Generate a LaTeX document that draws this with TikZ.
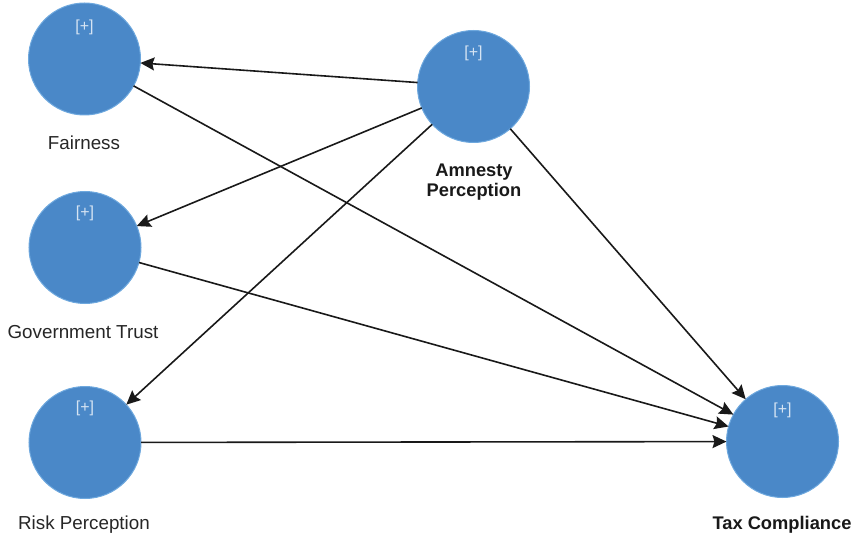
\documentclass[tikz,border=0pt]{standalone}
\usepackage{fontspec}
\setmainfont{Liberation Sans}
\usetikzlibrary{arrows.meta}
\definecolor{circfill}{HTML}{4A88C8}
\definecolor{circedge}{HTML}{6EA8DE}
\definecolor{plustext}{HTML}{D6E4F3}
\tikzset{
  latent/.style={circle, fill=circfill, draw=circedge, line width=1pt, minimum size=112pt, inner sep=0pt, outer sep=0pt},
  plus/.style={text=plustext, font=\fontsize{16}{18}\selectfont, inner sep=0pt},
  lbl/.style={font=\fontsize{18.8}{20}\selectfont, inner sep=0pt, align=center, text=black!85},
  blbl/.style={font=\fontsize{18.3}{20}\selectfont\bfseries, inner sep=0pt, align=center, text=black!90},
  path/.style={draw=black!90, line width=1.6pt, -{Stealth[length=14pt,width=13pt,inset=2pt]}}
}
\begin{document}
\begin{tikzpicture}[x=1pt,y=-1pt]
\useasboundingbox (0,0) rectangle (856,537);
\node[latent] (fair) at (84.5,59) {};
\node[latent] (gov) at (85,247.5) {};
\node[latent] (risk) at (85,442.5) {};
\node[latent] (amn) at (473.5,86.5) {};
\node[latent] (tax) at (782.5,441.5) {};
\node[plus] (pfair) at (84.5,27) {[+]};
\node[plus] (pgov) at (85,213) {[+]};
\node[plus] (prisk) at (85,408) {[+]};
\node[plus] (pamn) at (473.5,53) {[+]};
\node[plus] (ptax) at (782.5,410) {[+]};
\node[lbl] (lfair) at (84,143) {Fairness};
\node[lbl] (lgov) at (83,332) {Government Trust};
\node[lbl] (lrisk) at (84,525) {Risk Perception};
\node[blbl] (lamn) at (474,182) {Amnesty\\Perception};
\node[blbl] (ltax) at (782,525) {Tax Compliance};
\draw[path] (amn) -- (fair);
\draw[path] (amn) -- (gov);
\draw[path] (amn) -- (risk);
\draw[path] (amn) -- (tax);
\draw[path] (fair) -- (tax);
\draw[path] (gov) -- (tax);
\draw[path] (risk) -- (tax);
\end{tikzpicture}
\end{document}
